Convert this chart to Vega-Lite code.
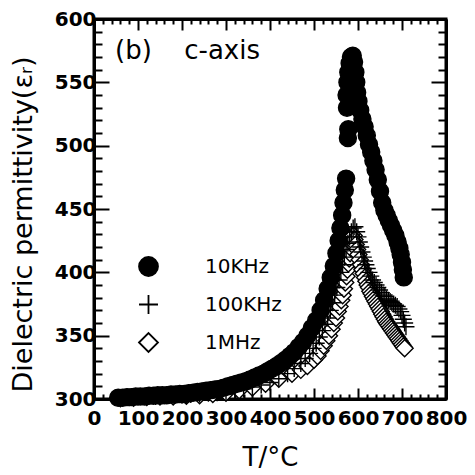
{
  "$schema": "https://vega.github.io/schema/vega-lite/v6.json",
  "width": 352,
  "height": 380,
  "autosize": "none",
  "padding": {"left": 94, "top": 19, "right": 29, "bottom": 76},
  "background": "white",
  "config": {
    "font": "DejaVu Sans",
    "view": {"stroke": "black", "strokeWidth": 3},
    "axis": {"grid": false, "labelColor": "black", "titleColor": "black", "titleFontWeight": "normal", "labelOverlap": false}
  },
  "datasets": {
    "pts": [
      {"freq": "1MHz", "T": 60, "eps": 300.5},
      {"freq": "1MHz", "T": 90, "eps": 301},
      {"freq": "1MHz", "T": 120, "eps": 301.5},
      {"freq": "1MHz", "T": 150, "eps": 302},
      {"freq": "1MHz", "T": 180, "eps": 302},
      {"freq": "1MHz", "T": 210, "eps": 302.5},
      {"freq": "1MHz", "T": 240, "eps": 303},
      {"freq": "1MHz", "T": 270, "eps": 304},
      {"freq": "1MHz", "T": 300, "eps": 305},
      {"freq": "1MHz", "T": 330, "eps": 307},
      {"freq": "1MHz", "T": 360, "eps": 309},
      {"freq": "1MHz", "T": 390, "eps": 312},
      {"freq": "1MHz", "T": 420, "eps": 316},
      {"freq": "1MHz", "T": 450, "eps": 320},
      {"freq": "1MHz", "T": 470, "eps": 323},
      {"freq": "1MHz", "T": 485, "eps": 326},
      {"freq": "1MHz", "T": 500, "eps": 331},
      {"freq": "1MHz", "T": 508, "eps": 334},
      {"freq": "1MHz", "T": 515, "eps": 338},
      {"freq": "1MHz", "T": 522, "eps": 342},
      {"freq": "1MHz", "T": 528, "eps": 346},
      {"freq": "1MHz", "T": 534, "eps": 350},
      {"freq": "1MHz", "T": 540, "eps": 355},
      {"freq": "1MHz", "T": 545, "eps": 360},
      {"freq": "1MHz", "T": 550, "eps": 364},
      {"freq": "1MHz", "T": 554, "eps": 369},
      {"freq": "1MHz", "T": 558, "eps": 373},
      {"freq": "1MHz", "T": 562, "eps": 378},
      {"freq": "1MHz", "T": 565, "eps": 382},
      {"freq": "1MHz", "T": 568, "eps": 387},
      {"freq": "1MHz", "T": 571, "eps": 392},
      {"freq": "1MHz", "T": 574, "eps": 397},
      {"freq": "1MHz", "T": 576, "eps": 402},
      {"freq": "1MHz", "T": 578, "eps": 407},
      {"freq": "1MHz", "T": 580, "eps": 411},
      {"freq": "1MHz", "T": 582, "eps": 415},
      {"freq": "1MHz", "T": 584, "eps": 419},
      {"freq": "1MHz", "T": 586, "eps": 423},
      {"freq": "1MHz", "T": 588, "eps": 427},
      {"freq": "1MHz", "T": 590, "eps": 429},
      {"freq": "1MHz", "T": 592, "eps": 426},
      {"freq": "1MHz", "T": 595, "eps": 422},
      {"freq": "1MHz", "T": 598, "eps": 418},
      {"freq": "1MHz", "T": 601, "eps": 414},
      {"freq": "1MHz", "T": 604, "eps": 410},
      {"freq": "1MHz", "T": 607, "eps": 406},
      {"freq": "1MHz", "T": 610, "eps": 402},
      {"freq": "1MHz", "T": 613, "eps": 399},
      {"freq": "1MHz", "T": 616, "eps": 396},
      {"freq": "1MHz", "T": 619, "eps": 393},
      {"freq": "1MHz", "T": 622, "eps": 390},
      {"freq": "1MHz", "T": 625, "eps": 388},
      {"freq": "1MHz", "T": 628, "eps": 385},
      {"freq": "1MHz", "T": 631, "eps": 383},
      {"freq": "1MHz", "T": 634, "eps": 381},
      {"freq": "1MHz", "T": 637, "eps": 379},
      {"freq": "1MHz", "T": 640, "eps": 377},
      {"freq": "1MHz", "T": 643, "eps": 375},
      {"freq": "1MHz", "T": 646, "eps": 373},
      {"freq": "1MHz", "T": 649, "eps": 371},
      {"freq": "1MHz", "T": 652, "eps": 369},
      {"freq": "1MHz", "T": 655, "eps": 367},
      {"freq": "1MHz", "T": 658, "eps": 365},
      {"freq": "1MHz", "T": 661, "eps": 363},
      {"freq": "1MHz", "T": 664, "eps": 361},
      {"freq": "1MHz", "T": 667, "eps": 359.5},
      {"freq": "1MHz", "T": 670, "eps": 358},
      {"freq": "1MHz", "T": 673, "eps": 356.5},
      {"freq": "1MHz", "T": 676, "eps": 355},
      {"freq": "1MHz", "T": 679, "eps": 353.5},
      {"freq": "1MHz", "T": 682, "eps": 352},
      {"freq": "1MHz", "T": 685, "eps": 350.5},
      {"freq": "1MHz", "T": 688, "eps": 349},
      {"freq": "1MHz", "T": 691, "eps": 347.5},
      {"freq": "1MHz", "T": 694, "eps": 346},
      {"freq": "1MHz", "T": 697, "eps": 344.5},
      {"freq": "1MHz", "T": 700, "eps": 343},
      {"freq": "1MHz", "T": 703, "eps": 341.5},
      {"freq": "1MHz", "T": 706, "eps": 340},
      {"freq": "100KHz", "T": 60, "eps": 301},
      {"freq": "100KHz", "T": 80, "eps": 301},
      {"freq": "100KHz", "T": 100, "eps": 301.5},
      {"freq": "100KHz", "T": 120, "eps": 302},
      {"freq": "100KHz", "T": 140, "eps": 302},
      {"freq": "100KHz", "T": 160, "eps": 302.5},
      {"freq": "100KHz", "T": 180, "eps": 303},
      {"freq": "100KHz", "T": 200, "eps": 303},
      {"freq": "100KHz", "T": 220, "eps": 303.5},
      {"freq": "100KHz", "T": 240, "eps": 304},
      {"freq": "100KHz", "T": 260, "eps": 304.5},
      {"freq": "100KHz", "T": 280, "eps": 305},
      {"freq": "100KHz", "T": 300, "eps": 306},
      {"freq": "100KHz", "T": 320, "eps": 307},
      {"freq": "100KHz", "T": 340, "eps": 308},
      {"freq": "100KHz", "T": 360, "eps": 309.5},
      {"freq": "100KHz", "T": 380, "eps": 311},
      {"freq": "100KHz", "T": 400, "eps": 313},
      {"freq": "100KHz", "T": 420, "eps": 316},
      {"freq": "100KHz", "T": 440, "eps": 320},
      {"freq": "100KHz", "T": 455, "eps": 324},
      {"freq": "100KHz", "T": 470, "eps": 328},
      {"freq": "100KHz", "T": 480, "eps": 332},
      {"freq": "100KHz", "T": 490, "eps": 336},
      {"freq": "100KHz", "T": 498, "eps": 340},
      {"freq": "100KHz", "T": 505, "eps": 344},
      {"freq": "100KHz", "T": 512, "eps": 349},
      {"freq": "100KHz", "T": 519, "eps": 354},
      {"freq": "100KHz", "T": 525, "eps": 359},
      {"freq": "100KHz", "T": 531, "eps": 364},
      {"freq": "100KHz", "T": 537, "eps": 370},
      {"freq": "100KHz", "T": 542, "eps": 376},
      {"freq": "100KHz", "T": 547, "eps": 382},
      {"freq": "100KHz", "T": 552, "eps": 388},
      {"freq": "100KHz", "T": 557, "eps": 394},
      {"freq": "100KHz", "T": 561, "eps": 400},
      {"freq": "100KHz", "T": 565, "eps": 406},
      {"freq": "100KHz", "T": 569, "eps": 412},
      {"freq": "100KHz", "T": 573, "eps": 418},
      {"freq": "100KHz", "T": 577, "eps": 423},
      {"freq": "100KHz", "T": 581, "eps": 428},
      {"freq": "100KHz", "T": 585, "eps": 432},
      {"freq": "100KHz", "T": 589, "eps": 435},
      {"freq": "100KHz", "T": 593, "eps": 436},
      {"freq": "100KHz", "T": 597, "eps": 432},
      {"freq": "100KHz", "T": 600, "eps": 428},
      {"freq": "100KHz", "T": 603, "eps": 424},
      {"freq": "100KHz", "T": 606, "eps": 420},
      {"freq": "100KHz", "T": 609, "eps": 416},
      {"freq": "100KHz", "T": 612, "eps": 412},
      {"freq": "100KHz", "T": 615, "eps": 409},
      {"freq": "100KHz", "T": 618, "eps": 406},
      {"freq": "100KHz", "T": 621, "eps": 403},
      {"freq": "100KHz", "T": 625, "eps": 400},
      {"freq": "100KHz", "T": 629, "eps": 397},
      {"freq": "100KHz", "T": 633, "eps": 394},
      {"freq": "100KHz", "T": 637, "eps": 392},
      {"freq": "100KHz", "T": 641, "eps": 390},
      {"freq": "100KHz", "T": 645, "eps": 388},
      {"freq": "100KHz", "T": 649, "eps": 386},
      {"freq": "100KHz", "T": 653, "eps": 384},
      {"freq": "100KHz", "T": 657, "eps": 382},
      {"freq": "100KHz", "T": 661, "eps": 381},
      {"freq": "100KHz", "T": 665, "eps": 379},
      {"freq": "100KHz", "T": 669, "eps": 378},
      {"freq": "100KHz", "T": 673, "eps": 377},
      {"freq": "100KHz", "T": 677, "eps": 376},
      {"freq": "100KHz", "T": 681, "eps": 375},
      {"freq": "100KHz", "T": 685, "eps": 374},
      {"freq": "100KHz", "T": 689, "eps": 373},
      {"freq": "100KHz", "T": 693, "eps": 371},
      {"freq": "100KHz", "T": 697, "eps": 369},
      {"freq": "100KHz", "T": 700, "eps": 366},
      {"freq": "100KHz", "T": 703, "eps": 363},
      {"freq": "100KHz", "T": 706, "eps": 360},
      {"freq": "100KHz", "T": 709, "eps": 357},
      {"freq": "10KHz", "T": 55, "eps": 301},
      {"freq": "10KHz", "T": 65, "eps": 301},
      {"freq": "10KHz", "T": 75, "eps": 301.5},
      {"freq": "10KHz", "T": 85, "eps": 301.5},
      {"freq": "10KHz", "T": 95, "eps": 302},
      {"freq": "10KHz", "T": 105, "eps": 302},
      {"freq": "10KHz", "T": 115, "eps": 302},
      {"freq": "10KHz", "T": 125, "eps": 302.5},
      {"freq": "10KHz", "T": 135, "eps": 302.5},
      {"freq": "10KHz", "T": 145, "eps": 303},
      {"freq": "10KHz", "T": 155, "eps": 303},
      {"freq": "10KHz", "T": 165, "eps": 303},
      {"freq": "10KHz", "T": 175, "eps": 303.5},
      {"freq": "10KHz", "T": 185, "eps": 303.5},
      {"freq": "10KHz", "T": 195, "eps": 304},
      {"freq": "10KHz", "T": 205, "eps": 304},
      {"freq": "10KHz", "T": 215, "eps": 304.5},
      {"freq": "10KHz", "T": 225, "eps": 305},
      {"freq": "10KHz", "T": 235, "eps": 305.5},
      {"freq": "10KHz", "T": 245, "eps": 306},
      {"freq": "10KHz", "T": 255, "eps": 306.5},
      {"freq": "10KHz", "T": 265, "eps": 307},
      {"freq": "10KHz", "T": 275, "eps": 307.5},
      {"freq": "10KHz", "T": 285, "eps": 308},
      {"freq": "10KHz", "T": 295, "eps": 309},
      {"freq": "10KHz", "T": 305, "eps": 310},
      {"freq": "10KHz", "T": 315, "eps": 311},
      {"freq": "10KHz", "T": 325, "eps": 312},
      {"freq": "10KHz", "T": 335, "eps": 313},
      {"freq": "10KHz", "T": 345, "eps": 314},
      {"freq": "10KHz", "T": 355, "eps": 315.5},
      {"freq": "10KHz", "T": 365, "eps": 317},
      {"freq": "10KHz", "T": 375, "eps": 318.5},
      {"freq": "10KHz", "T": 385, "eps": 320},
      {"freq": "10KHz", "T": 395, "eps": 322},
      {"freq": "10KHz", "T": 405, "eps": 324},
      {"freq": "10KHz", "T": 415, "eps": 326},
      {"freq": "10KHz", "T": 425, "eps": 328.5},
      {"freq": "10KHz", "T": 435, "eps": 331},
      {"freq": "10KHz", "T": 445, "eps": 334},
      {"freq": "10KHz", "T": 455, "eps": 337},
      {"freq": "10KHz", "T": 465, "eps": 341},
      {"freq": "10KHz", "T": 475, "eps": 345},
      {"freq": "10KHz", "T": 485, "eps": 350},
      {"freq": "10KHz", "T": 495, "eps": 356},
      {"freq": "10KHz", "T": 505, "eps": 362},
      {"freq": "10KHz", "T": 515, "eps": 370},
      {"freq": "10KHz", "T": 523, "eps": 378},
      {"freq": "10KHz", "T": 531, "eps": 387},
      {"freq": "10KHz", "T": 538, "eps": 396},
      {"freq": "10KHz", "T": 545, "eps": 405},
      {"freq": "10KHz", "T": 551, "eps": 415},
      {"freq": "10KHz", "T": 556, "eps": 425},
      {"freq": "10KHz", "T": 560, "eps": 435},
      {"freq": "10KHz", "T": 564, "eps": 445},
      {"freq": "10KHz", "T": 567, "eps": 455},
      {"freq": "10KHz", "T": 570, "eps": 465},
      {"freq": "10KHz", "T": 573, "eps": 474},
      {"freq": "10KHz", "T": 577, "eps": 506},
      {"freq": "10KHz", "T": 578, "eps": 513},
      {"freq": "10KHz", "T": 575, "eps": 530},
      {"freq": "10KHz", "T": 574, "eps": 540},
      {"freq": "10KHz", "T": 576, "eps": 550},
      {"freq": "10KHz", "T": 578, "eps": 558},
      {"freq": "10KHz", "T": 581, "eps": 565},
      {"freq": "10KHz", "T": 584, "eps": 570},
      {"freq": "10KHz", "T": 588, "eps": 571},
      {"freq": "10KHz", "T": 591, "eps": 566},
      {"freq": "10KHz", "T": 594, "eps": 558},
      {"freq": "10KHz", "T": 596, "eps": 550},
      {"freq": "10KHz", "T": 598, "eps": 542},
      {"freq": "10KHz", "T": 601, "eps": 535},
      {"freq": "10KHz", "T": 605, "eps": 528},
      {"freq": "10KHz", "T": 610, "eps": 521},
      {"freq": "10KHz", "T": 615, "eps": 515},
      {"freq": "10KHz", "T": 620, "eps": 508},
      {"freq": "10KHz", "T": 625, "eps": 501},
      {"freq": "10KHz", "T": 630, "eps": 495},
      {"freq": "10KHz", "T": 635, "eps": 488},
      {"freq": "10KHz", "T": 640, "eps": 481},
      {"freq": "10KHz", "T": 645, "eps": 473},
      {"freq": "10KHz", "T": 650, "eps": 464},
      {"freq": "10KHz", "T": 655, "eps": 455},
      {"freq": "10KHz", "T": 660, "eps": 449},
      {"freq": "10KHz", "T": 665, "eps": 445},
      {"freq": "10KHz", "T": 670, "eps": 441},
      {"freq": "10KHz", "T": 675, "eps": 437},
      {"freq": "10KHz", "T": 680, "eps": 433},
      {"freq": "10KHz", "T": 685, "eps": 429},
      {"freq": "10KHz", "T": 690, "eps": 424},
      {"freq": "10KHz", "T": 694, "eps": 419},
      {"freq": "10KHz", "T": 697, "eps": 414},
      {"freq": "10KHz", "T": 700, "eps": 408},
      {"freq": "10KHz", "T": 702, "eps": 402},
      {"freq": "10KHz", "T": 704, "eps": 396}
    ],
    "notes": [
      {"label": "(b)", "T": 48, "eps": 575},
      {"label": "c-axis", "T": 205, "eps": 575}
    ]
  },
  "layer": [
    {
      "data": {"name": "pts"},
      "mark": {"type": "point", "filled": true, "stroke": "black", "strokeWidth": 1.4, "size": 290, "opacity": 1},
      "encoding": {
        "x": {
          "field": "T", "type": "quantitative",
          "scale": {"domain": [0, 800], "nice": false, "zero": false},
          "axis": {
            "orient": "bottom",
            "domainColor": "black", "domainWidth": 3,
            "tickColor": "black", "tickWidth": 2,
            "values": [0,20,40,60,80,100,120,140,160,180,200,220,240,260,280,300,320,340,360,380,400,420,440,460,480,500,520,540,560,580,600,620,640,660,680,700,720,740,760,780,800],
            "labelExpr": "datum.value % 100 === 0 ? datum.label : ''",
            "tickSize": {"condition": {"test": "datum.value % 100 === 0", "value": -11}, "value": -5},
            "labelFlush": false,
            "labelFont": "DejaVu Sans",
            "labelFontSize": 20,
            "labelFontWeight": "bold",
            "labelPadding": 20,
            "labelDx": 6,
            "title": "T/°C",
            "titleFont": "DejaVu Sans",
            "titleFontSize": 26,
            "titlePadding": 10
          }
        },
        "y": {
          "field": "eps", "type": "quantitative",
          "scale": {"domain": [300, 600], "nice": false, "zero": false},
          "axis": {
            "orient": "left",
            "domainColor": "black", "domainWidth": 3,
            "tickColor": "black", "tickWidth": 2,
            "values": [300,310,320,330,340,350,360,370,380,390,400,410,420,430,440,450,460,470,480,490,500,510,520,530,540,550,560,570,580,590,600],
            "labelExpr": "datum.value % 50 === 0 ? datum.label : ''",
            "tickSize": {"condition": {"test": "datum.value % 50 === 0", "value": -15}, "value": -8},
            "labelFlush": false,
            "labelFont": "DejaVu Sans",
            "labelFontSize": 20,
            "labelFontWeight": "bold",
            "labelPadding": 13,
            "title": "Dielectric  permittivity(εᵣ)",
            "titleFont": "DejaVu Sans",
            "titleFontSize": 27,
            "titlePadding": 17,
            "titleY": 205
          }
        },
        "fill": {
          "field": "freq", "type": "nominal",
          "scale": {"domain": ["10KHz", "100KHz", "1MHz"], "range": ["black", "black", "white"]},
          "legend": {
            "orient": "none", "legendX": 44, "legendY": 237, "title": null,
            "labelFontSize": 20, "labelFont": "DejaVu Sans", "labelColor": "black",
            "symbolSize": 360, "symbolStrokeWidth": 1.8,
            "labelOffset": 46, "rowPadding": 11
          }
        },
        "stroke": {
          "field": "freq", "type": "nominal",
          "scale": {"domain": ["10KHz", "100KHz", "1MHz"], "range": ["black", "black", "black"]},
          "legend": {
            "orient": "none", "legendX": 44, "legendY": 237, "title": null,
            "labelFontSize": 20, "labelFont": "DejaVu Sans", "labelColor": "black",
            "symbolSize": 360, "symbolStrokeWidth": 1.8,
            "labelOffset": 46, "rowPadding": 11
          }
        },
        "shape": {
          "field": "freq", "type": "nominal",
          "scale": {"domain": ["10KHz", "100KHz", "1MHz"], "range": ["circle", "M-1,0H1M0,-1V1", "diamond"]},
          "legend": {
            "orient": "none", "legendX": 44, "legendY": 237, "title": null,
            "labelFontSize": 20, "labelFont": "DejaVu Sans", "labelColor": "black",
            "symbolSize": 360, "symbolStrokeWidth": 1.8,
            "labelOffset": 46, "rowPadding": 11
          }
        }
      }
    },
    {
      "data": {"name": "notes"},
      "mark": {"type": "text", "align": "left", "baseline": "middle", "fontSize": 26, "font": "DejaVu Sans", "color": "black"},
      "encoding": {
        "x": {
          "field": "T", "type": "quantitative",
          "scale": {"domain": [0, 800], "nice": false, "zero": false},
          "axis": {
            "orient": "top",
            "domainColor": "black", "domainWidth": 3,
            "tickColor": "black", "tickWidth": 2,
            "values": [0,20,40,60,80,100,120,140,160,180,200,220,240,260,280,300,320,340,360,380,400,420,440,460,480,500,520,540,560,580,600,620,640,660,680,700,720,740,760,780,800],
            "labels": false,
            "tickSize": {"condition": {"test": "datum.value % 100 === 0", "value": -11}, "value": -5},
            "title": null
          }
        },
        "y": {
          "field": "eps", "type": "quantitative",
          "scale": {"domain": [300, 600], "nice": false, "zero": false},
          "axis": {
            "orient": "right",
            "domainColor": "black", "domainWidth": 3,
            "tickColor": "black", "tickWidth": 2,
            "values": [300,310,320,330,340,350,360,370,380,390,400,410,420,430,440,450,460,470,480,490,500,510,520,530,540,550,560,570,580,590,600],
            "labels": false,
            "tickSize": {"condition": {"test": "datum.value % 50 === 0", "value": -15}, "value": -8},
            "title": null
          }
        },
        "text": {"field": "label", "type": "nominal"}
      }
    }
  ],
  "resolve": {"axis": {"x": "independent", "y": "independent"}}
}
